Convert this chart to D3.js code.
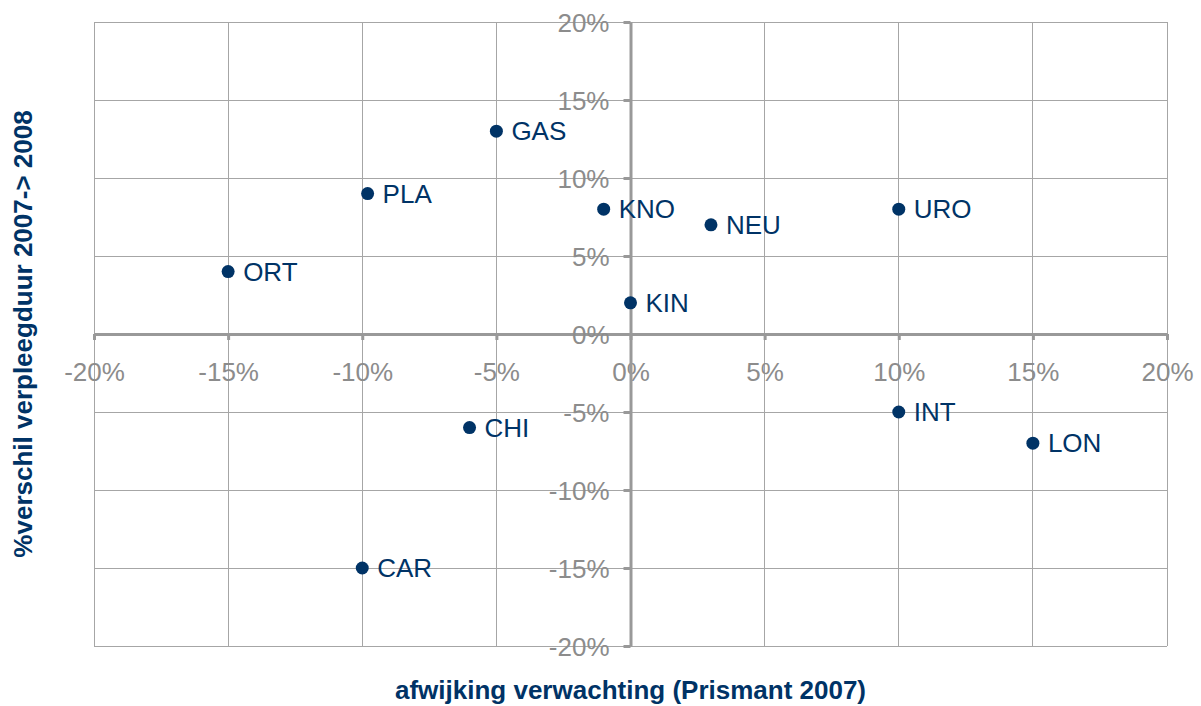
<!DOCTYPE html>
<html>
<head>
<meta charset="utf-8">
<script src="https://cdn.jsdelivr.net/npm/d3@7"></script>
<style>
  body { margin: 0; background: #fff; }
  text { font-family: "Liberation Sans", Arial, sans-serif; }
</style>
</head>
<body>
<script>
// departments and their values (fractions)
var names = ["GAS", "PLA", "ORT", "KNO", "NEU", "URO", "KIN", "CHI", "CAR", "INT", "LON"];
var afwijking = [-0.05, -0.098, -0.15, -0.01, 0.03, 0.10, 0.0, -0.06, -0.10, 0.10, 0.15];
var verschil = [0.13, 0.09, 0.04, 0.08, 0.07, 0.08, 0.02, -0.06, -0.15, -0.05, -0.07];
var tickValues = [-0.20, -0.15, -0.10, -0.05, 0, 0.05, 0.10, 0.15, 0.20];

var data = names.map(function(n, i) { return {name: n, x: afwijking[i], y: verschil[i]}; });

var W = 1201, H = 706;
var margin = {top: 22, right: 34, bottom: 60, left: 94},
    width = W - margin.left - margin.right,
    height = H - margin.top - margin.bottom;

var navy = "#003366", grey = "#8c8c8c";
var fmt = function(d) { return Math.round(d * 100) + "%"; };

var x = d3.scaleLinear().domain([-0.2, 0.2]).range([0, width]);
var y = d3.scaleLinear().domain([-0.2, 0.2]).range([height, 0]);

var svg = d3.select("body").append("svg")
    .attr("width", W)
    .attr("height", H)
  .append("g")
    .attr("transform", "translate(" + margin.left + "," + margin.top + ")");

// gridlines
svg.selectAll(".vgrid").data(tickValues).enter().append("line")
    .attr("x1", function(d) { return x(d); }).attr("x2", function(d) { return x(d); })
    .attr("y1", 0).attr("y2", height)
    .attr("stroke", "#a6a6a6").attr("stroke-width", 1).attr("shape-rendering", "crispEdges");
svg.selectAll(".hgrid").data(tickValues).enter().append("line")
    .attr("y1", function(d) { return y(d); }).attr("y2", function(d) { return y(d); })
    .attr("x1", 0).attr("x2", width)
    .attr("stroke", "#a6a6a6").attr("stroke-width", 1).attr("shape-rendering", "crispEdges");

// X axis through y=0
var xAxis = svg.append("g")
    .attr("transform", "translate(0," + y(0) + ")")
    .call(d3.axisBottom(x).tickValues(tickValues).tickFormat(fmt).tickSize(6).tickSizeOuter(0).tickPadding(23));
// Y axis through x=0
var yAxis = svg.append("g")
    .attr("transform", "translate(" + x(0) + ",0)")
    .call(d3.axisLeft(y).tickValues(tickValues).tickFormat(fmt).tickSize(7).tickSizeOuter(0).tickPadding(14));

[xAxis, yAxis].forEach(function(ax) {
  ax.select(".domain").attr("stroke", "#999").attr("stroke-width", 3);
  ax.selectAll(".tick line").attr("stroke", "#999").attr("stroke-width", 3);
  ax.selectAll(".tick text").attr("fill", grey).style("font-size", "26px")
    .style("font-family", "'Liberation Sans', Arial, sans-serif");
});
yAxis.selectAll(".tick text").attr("dy", "0.35em");

// points
svg.selectAll(".dot").data(data).enter().append("circle")
    .attr("cx", function(d) { return x(d.x); })
    .attr("cy", function(d) { return y(d.y); })
    .attr("r", 6.5)
    .attr("fill", navy);

svg.selectAll(".lbl").data(data).enter().append("text")
    .attr("x", function(d) { return x(d.x) + 15; })
    .attr("y", function(d) { return y(d.y) + 9; })
    .attr("fill", navy)
    .style("font-size", "26px")
    .text(function(d) { return d.name; });

// axis titles
svg.append("text")
    .attr("text-anchor", "middle")
    .attr("transform", "translate(" + (width / 2) + "," + (height + 53) + ")")
    .attr("fill", navy)
    .style("font-size", "26px").style("font-weight", "bold")
    .text("afwijking verwachting (Prismant 2007)");

svg.append("text")
    .attr("text-anchor", "middle")
    .attr("transform", "translate(-62," + (y(0)) + ")rotate(-90)")
    .attr("fill", navy)
    .style("font-size", "26px").style("font-weight", "bold")
    .text("%verschil verpleegduur 2007-> 2008");
</script>
</body>
</html>
